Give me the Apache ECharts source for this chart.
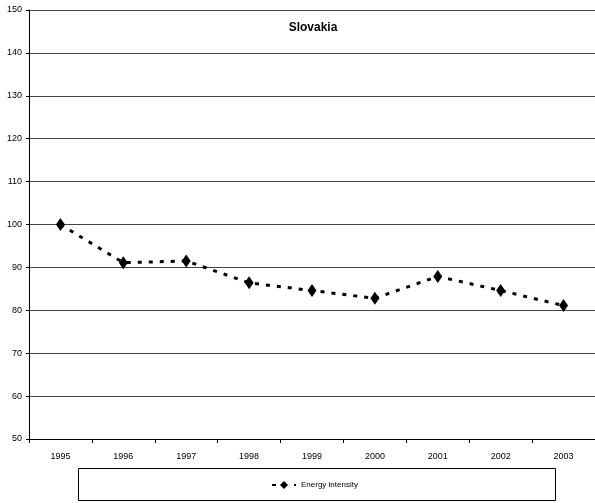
<!DOCTYPE html>
<html><head><meta charset="utf-8">
<script src="https://cdn.jsdelivr.net/npm/echarts@6/dist/echarts.min.js"></script>
<style>html,body{margin:0;padding:0;background:#fff}#c{width:595px;height:503px}</style>
</head><body><div id="c"></div>
<script>
const years = ['1995','1996','1997','1998','1999','2000','2001','2002','2003'];
const energyIntensity = [100, 91.1, 91.5, 86.4, 84.6, 82.8, 87.9, 84.6, 81.1];
const yTicks = {min: 50, max: 150, interval: 10};
const seriesName = 'Energy intensity';
const titleText = 'Slovakia';

const chart = echarts.init(document.getElementById('c'), null, {renderer: 'canvas'});
const font = 'Liberation Sans, Arial, sans-serif';
chart.setOption({
  animation: false,
  backgroundColor: '#fff',
  title: {text: titleText, left: 308, top: 17, textAlign: 'center',
    textStyle: {fontFamily: font, fontSize: 12, fontWeight: 'bold', color: '#000'}},
  grid: {left: 29, right: -1, top: 10, bottom: 64, containLabel: false},
  xAxis: {type: 'category', data: years, boundaryGap: true,
    axisLine: {lineStyle: {color: '#000', width: 1}},
    axisTick: {show: true, inside: false, length: 4, lineStyle: {color: '#000'}},
    axisLabel: {fontFamily: font, fontSize: 9, color: '#000', margin: 13},
    splitLine: {show: false}},
  yAxis: {type: 'value', min: yTicks.min, max: yTicks.max, interval: yTicks.interval,
    axisLine: {show: true, lineStyle: {color: '#000', width: 1}},
    axisTick: {show: true, length: 3, lineStyle: {color: '#000'}},
    axisLabel: {fontFamily: font, fontSize: 9, color: '#000', margin: 7},
    splitLine: {show: true, lineStyle: {color: '#444', width: 1}}},
  legend: {left: 266, top: 476, itemWidth: 24, itemHeight: 10, itemGap: 4,
    textStyle: {fontFamily: font, fontSize: 8, color: '#000'},
    data: [{name: seriesName}]},
  graphic: [{type: 'rect', shape: {x: 78.5, y: 468.5, width: 477, height: 32},
    style: {fill: 'none', stroke: '#000', lineWidth: 1}, z: 0}],
  series: [{name: seriesName, type: 'line', data: energyIntensity,
    symbol: 'diamond', symbolSize: [9, 13],
    itemStyle: {color: '#000'},
    lineStyle: {color: '#000', width: 3, type: [4, 7], cap: 'butt'}}]
});
</script></body></html>
